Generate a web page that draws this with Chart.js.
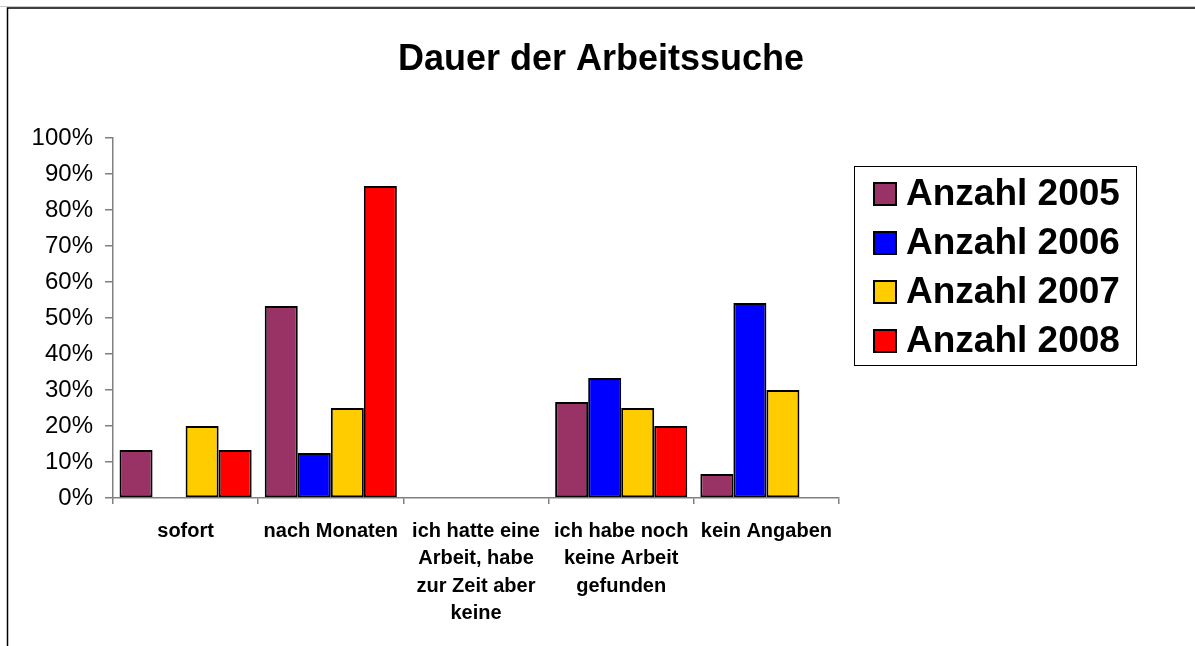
<!DOCTYPE html>
<html lang="de">
<head>
<meta charset="utf-8">
<title>Dauer der Arbeitssuche</title>
<script src="https://cdn.jsdelivr.net/npm/chart.js@4/dist/chart.umd.min.js"></script>
<style>
    html, body { margin: 0; padding: 0; background: #fff; }
    #wrap { width: 1195px; height: 646px; }
</style>
</head>
<body>
<div id="wrap"><canvas id="chart" width="1195" height="646"></canvas></div>
<script>
// Kategorien (mehrzeilige Beschriftungen als Arrays)
const categories = [
    'sofort',
    'nach Monaten',
    ['ich hatte eine', 'Arbeit, habe', 'zur Zeit aber', 'keine'],
    ['ich habe noch', 'keine Arbeit', 'gefunden'],
    'kein Angaben'
];

// Anteile in Prozent pro Jahr
const years = ['Anzahl 2005', 'Anzahl 2006', 'Anzahl 2007', 'Anzahl 2008'];
const values2005 = [13.3, 53.3, 0, 26.7, 6.7];
const values2006 = [0, 12.5, 0, 33.3, 54.2];
const values2007 = [20, 25, 0, 25, 30];
const values2008 = [13.3, 86.7, 0, 20, 0];
const colors = ['#993366', '#0000FF', '#FFCC00', '#FF0000'];
const chartTitle = 'Dauer der Arbeitssuche';

const FONT = "'Liberation Sans', Arial, Helvetica, sans-serif";
Chart.defaults.font.family = FONT;
Chart.defaults.color = '#000';

// Rahmenlinien oben/links und Titel über die ganze Breite
const frame = {
    id: 'frame',
    afterDraw(chart) {
        const ctx = chart.ctx;
        ctx.save();
        ctx.strokeStyle = '#c8c8c8';
        ctx.lineWidth = 1;
        ctx.beginPath();
        ctx.moveTo(0, 6.5);
        ctx.lineTo(1195, 6.5);
        ctx.stroke();
        ctx.strokeStyle = '#000';
        ctx.lineWidth = 1.5;
        ctx.beginPath();
        ctx.moveTo(7.5, 646);
        ctx.lineTo(7.5, 8);
        ctx.lineTo(1195, 8);
        ctx.stroke();
        ctx.font = 'bold 36px ' + FONT;
        ctx.fillStyle = '#000';
        ctx.textAlign = 'center';
        ctx.textBaseline = 'alphabetic';
        ctx.fillText(chartTitle, 601, 70);
        ctx.restore();
    }
};

// Legende mit Rahmen rechts neben dem Diagramm
const boxLegend = {
    id: 'boxLegend',
    afterDraw(chart) {
        const ctx = chart.ctx;
        ctx.save();
        ctx.fillStyle = '#fff';
        ctx.fillRect(854.5, 166.5, 282, 199);
        ctx.strokeStyle = '#000';
        ctx.lineWidth = 1;
        ctx.strokeRect(854.5, 166.5, 282, 199);
        ctx.font = 'bold 37px ' + FONT;
        ctx.textBaseline = 'alphabetic';
        ctx.textAlign = 'left';
        chart.data.datasets.forEach((ds, i) => {
            const y = 182 + i * 49;
            ctx.fillStyle = ds.backgroundColor;
            ctx.fillRect(873, y, 24, 24);
            ctx.lineWidth = 2;
            ctx.strokeStyle = '#000';
            ctx.strokeRect(874, y + 1, 22, 22);
            ctx.fillStyle = '#000';
            ctx.fillText(ds.label, 906, y + 23);
        });
        ctx.restore();
    }
};

const series = [values2005, values2006, values2007, values2008];

new Chart(document.getElementById('chart'), {
    type: 'bar',
    data: {
        labels: categories,
        datasets: series.map((vals, i) => ({
            label: years[i],
            data: vals,
            backgroundColor: colors[i],
            borderColor: '#000',
            borderWidth: 2,
            borderSkipped: false,
            categoryPercentage: 0.91,
            barPercentage: 1.0
        }))
    },
    options: {
        responsive: false,
        animation: false,
        events: [],
        layout: { padding: { left: 8, right: 356, top: 138, bottom: 0 } },
        plugins: {
            legend: { display: false },
            tooltip: { enabled: false },
            title: { display: false }
        },
        scales: {
            x: {
                grid: {
                    display: true,
                    drawOnChartArea: false,
                    drawTicks: true,
                    tickLength: 6,
                    color: '#808080',
                    lineWidth: 1.5
                },
                border: { display: true, color: '#808080', width: 1.5 },
                ticks: {
                    font: { size: 20, weight: 'bold', lineHeight: 1.36 },
                    padding: 14,
                    maxRotation: 0,
                    autoSkip: false
                },
                afterFit(scale) { scale.height = 148; }
            },
            y: {
                min: 0,
                max: 100,
                grid: {
                    display: true,
                    drawOnChartArea: false,
                    drawTicks: true,
                    tickLength: 8,
                    color: '#808080',
                    lineWidth: 1.5
                },
                border: { display: true, color: '#808080', width: 1.5 },
                ticks: {
                    stepSize: 10,
                    font: { size: 24 },
                    padding: 12,
                    callback: v => v + '%'
                },
                afterFit(scale) { scale.width = 105; }
            }
        }
    },
    plugins: [frame, boxLegend]
});
</script>
</body>
</html>
